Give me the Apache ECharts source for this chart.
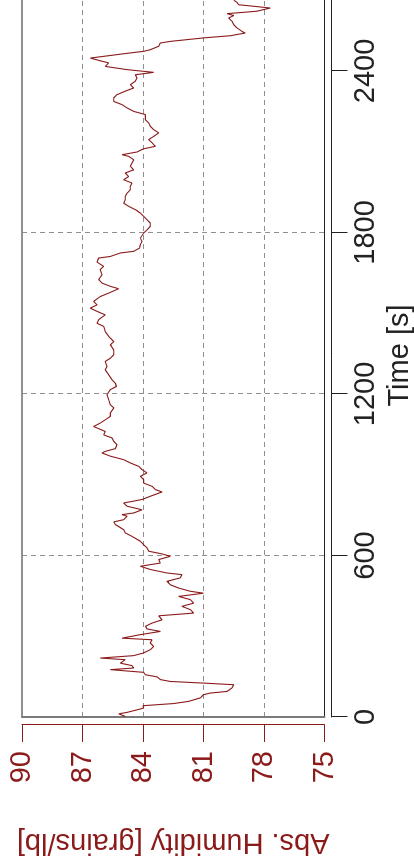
<!DOCTYPE html>
<html>
<head>
<meta charset="utf-8">
<script src="https://cdn.jsdelivr.net/npm/echarts@6/dist/echarts.min.js"></script>
<style>
html, body { margin: 0; padding: 0; background: #ffffff; overflow: hidden; width: 414px; height: 864px; }
#chart { position: absolute; left: 0; top: 0; width: 864px; height: 414px; transform-origin: 0 0; transform: translate(0px, 864px) rotate(-90deg); }
</style>
</head>
<body>
<div id="chart"></div>
<script>
// Time [s]
const timeSec = [
  2, 12, 17, 33, 42, 50, 58, 71, 77, 83, 89, 95, 108, 120, 126, 132, 139, 149, 157, 166,
  176, 182, 191, 200, 213, 219, 228, 238, 250, 262, 275, 287, 293, 306, 318, 327, 337, 349, 361, 376,
  386, 399, 411, 423, 436, 448, 460, 467, 479, 491,
  504, 517, 529, 535, 548, 560, 572, 585, 597, 606, 616, 628, 640, 653, 671, 684, 696, 715, 725, 733,
  746, 752, 758, 770, 783, 795, 808, 820, 836, 845, 857, 869, 882, 894, 907, 919, 931, 944, 956, 969,
  981, 987, 997, 1012, 1024, 1037,
  1048, 1061, 1079, 1092, 1104, 1117, 1129, 1148, 1160, 1178, 1197, 1216, 1228, 1240, 1253, 1271, 1290, 1302, 1321, 1333,
  1346, 1364, 1383, 1395, 1414, 1432, 1451, 1463, 1476, 1494, 1507, 1519, 1531, 1544, 1562, 1575,
  1591, 1600, 1612, 1625, 1643, 1662, 1674, 1690, 1705, 1711, 1724, 1730, 1742, 1755, 1767, 1779, 1798, 1810, 1823, 1835,
  1847, 1860, 1872, 1885, 1897, 1909, 1922, 1934, 1946, 1959, 1971, 1984, 1996, 2008, 2021, 2033, 2046, 2058, 2070, 2083,
  2089, 2099, 2111,
  2120, 2133, 2145, 2157, 2170, 2182, 2195, 2207, 2219, 2238, 2250, 2263, 2275, 2287, 2300, 2312, 2325, 2337, 2349, 2362,
  2374, 2386, 2395, 2405, 2417, 2430, 2438, 2448, 2455, 2464, 2473, 2479, 2492, 2504, 2510, 2523, 2531, 2541, 2547, 2560,
  2572, 2585, 2597, 2606, 2613, 2622, 2634, 2643, 2646, 2655, 2663
];
// Abs. Humidity [grains/lb]
const absHumidity = [
  84.88, 85.2, 84.8, 83.97, 84.0, 82.48, 81.74, 81.16, 81.07, 81.0, 80.66, 79.83, 79.59, 79.5, 81.0, 82.64, 83.14, 83.3, 83.88, 83.97,
  85.62, 84.46, 84.55, 85.12, 84.88, 86.12, 84.46, 83.97, 83.64, 83.47, 83.64, 83.55, 85.04, 84.13, 83.14, 83.8, 83.88, 83.55, 83.06, 83.22,
  81.49, 81.65, 82.07, 81.49, 81.65, 82.23, 81.0, 81.65, 82.23, 82.64,
  82.81, 82.15, 82.07, 82.81, 83.64, 84.13, 83.14, 83.22, 82.64, 83.06, 83.72, 83.8, 83.97, 84.13, 84.55, 84.88, 84.96, 85.37, 85.45, 84.96,
  84.79, 85.04, 84.46, 84.05, 84.79, 84.96, 84.05, 83.64, 83.06, 83.39, 83.55, 83.97, 83.97, 84.13, 83.8, 84.05, 84.21, 84.63, 84.96, 85.62,
  86.03, 85.87, 85.37, 85.29, 85.45, 85.54,
  85.95, 85.87, 86.45, 86.12, 85.87, 85.62, 85.62, 85.45, 85.62, 85.7, 85.79, 85.62, 85.32, 85.37, 85.54, 85.7, 85.87, 85.79, 85.87, 85.62,
  85.45, 85.45, 85.62, 85.45, 85.7, 85.87, 85.95, 86.28, 86.2, 85.87, 86.28, 86.61, 86.28, 86.45, 86.12, 85.7,
  85.21, 85.62, 86.03, 86.2, 86.03, 86.12, 85.95, 86.28, 86.2, 85.62, 85.12, 84.46, 84.17, 84.13, 84.05, 84.13, 83.97, 83.8, 83.64, 83.64,
  83.8, 83.97, 84.13, 84.38, 84.71, 84.96, 84.88, 84.88, 84.79, 84.63, 84.63, 84.55, 84.96, 84.71, 84.88, 84.46, 84.63, 84.55, 84.46, 84.71,
  85.04, 84.3, 83.97,
  83.39, 83.55, 83.72, 83.47, 83.22, 83.47, 83.64, 83.72, 83.88, 83.88, 84.46, 84.79, 85.04, 85.45, 85.45, 85.29, 84.88, 84.46, 84.63, 84.38,
  84.3, 84.38, 83.47, 84.79, 85.87, 85.7, 86.12, 86.61, 86.53, 84.96, 83.97, 83.64, 83.22, 83.14, 82.64, 80.99, 79.67, 78.93, 79.09, 79.34,
  79.5, 79.59, 79.75, 79.5, 79.83, 78.35, 77.69, 78.84, 79.26, 79.34, 79.5
];
const timeTicks = [0, 600, 1200, 1800, 2400];
const humidityTicks = [75, 78, 81, 84, 87, 90];

const FONT = '"Liberation Sans", Arial, Helvetica, sans-serif';
const RED = '#8b1a1a';
const DARK = '#222222';
const GRID = '#8f8f8f';

const chart = echarts.init(document.getElementById('chart'), null, { renderer: 'canvas' });
const seriesData = timeSec.map((t, i) => [t, absHumidity[i]]);

chart.setOption({
  animation: false,
  backgroundColor: '#ffffff',
  grid: {
    left: 147, top: 22, right: -6, bottom: 89.5,
    containLabel: false, outerBoundsMode: 'none',
    show: true, borderColor: DARK, borderWidth: 1, backgroundColor: 'transparent'
  },
  xAxis: [{
    type: 'value', min: 0, max: 2686, interval: 600,
    position: 'bottom', offset: 7,
    axisLine: { show: true, onZero: false, lineStyle: { color: DARK, width: 1 } },
    axisTick: { show: true, length: 16, lineStyle: { color: DARK, width: 1 },
      customValues: timeTicks },
    axisLabel: { color: DARK, fontSize: 29, fontFamily: FONT, margin: 20,
      customValues: timeTicks, formatter: v => String(v) },
    splitLine: { show: true, showMinLine: false, showMaxLine: false,
      lineStyle: { color: GRID, width: 1, type: [5, 4] } },
    name: 'Time [s]', nameLocation: 'middle', nameGap: 52,
    nameTextStyle: { color: DARK, fontSize: 29, fontFamily: FONT }
  }],
  yAxis: [{
    type: 'value', min: 75, max: 90, interval: 3,
    position: 'left', offset: 8,
    axisLine: { show: true, onZero: false, lineStyle: { color: RED, width: 1 } },
    axisTick: { show: true, length: 17, lineStyle: { color: RED, width: 1 },
      customValues: humidityTicks },
    axisLabel: { color: RED, fontSize: 29, fontFamily: FONT, margin: 26,
      customValues: humidityTicks },
    splitLine: { show: true, showMinLine: false, showMaxLine: false,
      lineStyle: { color: GRID, width: 1, type: [5, 4] } },
    name: 'Abs. Humidity [grains/lb]', nameLocation: 'middle', nameRotate: 90, nameGap: 103,
    nameTextStyle: { color: RED, fontSize: 29, fontFamily: FONT }
  }, {
    type: 'value', min: 75, max: 90, interval: 3,
    position: 'left', offset: 0,
    axisLine: { show: true, onZero: false, lineStyle: { color: '#7a7a7a', width: 2 } },
    axisTick: { show: false }, axisLabel: { show: false }, splitLine: { show: false }
  }],
  series: [{
    type: 'line',
    xAxisIndex: 0, yAxisIndex: 0,
    data: seriesData,
    showSymbol: false,
    smooth: false,
    lineStyle: { color: RED, width: 1.1 },
    clip: true
  }]
});
</script>
</body>
</html>
